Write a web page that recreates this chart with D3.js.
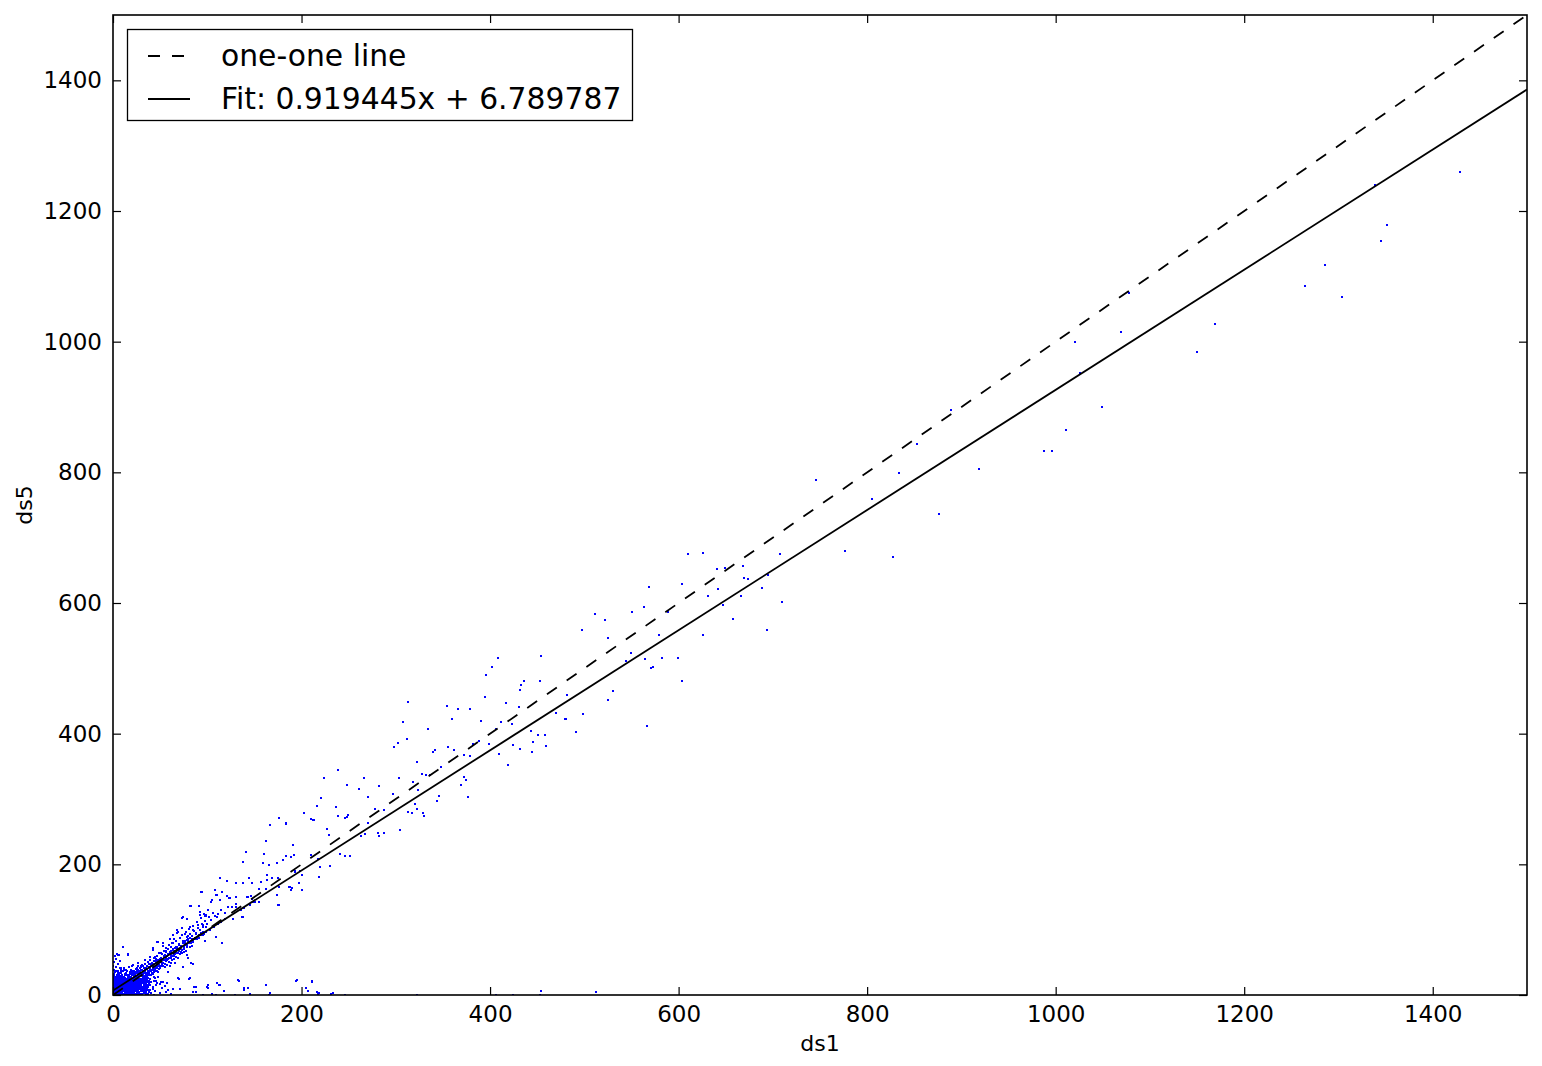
<!DOCTYPE html>
<html>
<head>
<meta charset="utf-8">
<script src="https://cdn.jsdelivr.net/npm/d3@7"></script>
<style>
  html, body { margin: 0; padding: 0; background: #fff; }
  svg { display: block; font-family: "DejaVu Sans", sans-serif; }
</style>
</head>
<body>
<svg id="chart" width="1542" height="1066"></svg>
<script>
// ---- data ----
const xTicks = [0, 200, 400, 600, 800, 1000, 1200, 1400];
const yTicks = [0, 200, 400, 600, 800, 1000, 1200, 1400];
const xLabel = "ds1";
const yLabel = "ds5";
const fitSlope = 0.919445;
const fitIntercept = 6.789787;
const legendLabels = ["one-one line", "Fit: 0.919445x + 6.789787"];

// dense cluster near the origin
const clusterPoints = [
[0,1],[2,3],[4,1],[6,2],[8,0],[10,3],[12,1],[14,2],[16,0],[18,3],[20,1],[22,2],[24,1],[26,3],[28,0],[31,2],[35,1],[40,3],[44,0],
[1,5],[3,4],[5,6],[7,4],[9,5],[11,6],[13,4],[15,5],[17,6],[19,4],[21,5],[23,6],[25,4],[27,5],[30,6],[33,4],[38,5],
[0,8],[2,7],[4,9],[6,8],[8,7],[10,9],[12,8],[14,7],[16,9],[18,8],[20,7],[22,9],[24,8],[26,7],[29,9],[32,8],[36,7],[42,9],
[1,11],[3,10],[5,12],[7,11],[9,10],[11,12],[13,11],[15,10],[17,12],[19,11],[21,10],[23,12],[25,11],[28,10],[31,12],[34,11],
[0,14],[2,13],[4,15],[6,14],[8,13],[10,15],[12,14],[14,13],[16,15],[18,14],[20,13],[22,15],[24,14],[27,13],[30,15],[33,14],[37,13],
[1,17],[3,16],[5,18],[7,17],[9,16],[11,18],[13,17],[15,16],[17,18],[19,17],[21,16],[23,18],[26,17],[29,16],[32,18],[35,17],
[0,20],[2,19],[4,21],[6,20],[8,19],[10,21],[12,20],[14,19],[16,21],[18,20],[20,19],[22,21],[25,20],[28,19],[31,21],[34,20],[38,19],
[1,23],[3,22],[5,24],[7,23],[9,22],[11,24],[13,23],[15,22],[17,24],[19,23],[21,22],[24,24],[27,23],[30,22],[33,24],[36,23],
[0,26],[2,25],[4,27],[6,26],[8,25],[10,27],[12,26],[14,25],[16,27],[18,26],[20,25],[23,27],[26,26],[29,25],[32,27],[35,26],[39,25],
[1,29],[3,28],[6,30],[9,29],[12,28],[15,30],[17,29],[19,28],[21,30],[24,29],[27,28],[30,30],[33,29],[36,28],[40,30],
[0,32],[4,31],[8,33],[13,32],[16,31],[20,33],[23,32],[26,31],[29,33],[32,32],[35,31],[38,33],[42,32],
[2,35],[6,34],[11,36],[18,35],[22,34],[25,36],[28,35],[31,34],[34,36],[37,35],[41,34],[45,36],
[1,38],[9,39],[15,37],[24,40],[27,38],[30,39],[33,37],[36,40],[39,38],[43,39],[47,37],
[3,43],[12,42],[20,44],[29,42],[32,44],[35,41],[38,43],[41,45],[44,42],[48,44],
[1,50],[3,55],[2,60],[5,48],[0,45],[4,62],[7,52]
];

const clusterPoints2 = [
[1,2],[3,2],[5,3],[7,1],[9,2],[11,1],[13,3],[15,1],[17,2],[19,1],[21,3],[23,2],[25,3],[27,2],[29,1],[33,3],[37,2],
[0,4],[2,5],[4,4],[6,6],[8,5],[10,4],[12,6],[14,5],[16,4],[18,6],[20,5],[22,4],[24,6],[26,5],[28,4],[31,6],[35,5],
[1,8],[3,7],[5,9],[7,8],[9,7],[11,9],[13,8],[15,7],[17,9],[19,8],[21,7],[23,9],[25,8],[27,7],[30,9],[34,8],[39,7],
[0,11],[2,10],[4,12],[6,11],[8,10],[10,12],[12,11],[14,10],[16,12],[18,11],[20,10],[22,12],[24,11],[26,10],[29,12],[32,11],[36,10],
[1,14],[3,13],[5,15],[7,14],[9,13],[11,15],[13,14],[15,13],[17,15],[19,14],[21,13],[23,15],[25,14],[28,15],[31,13],[35,14],
[0,17],[2,16],[4,18],[6,17],[8,16],[10,18],[12,17],[14,16],[16,18],[18,17],[20,16],[22,18],[24,17],[27,16],[30,18],[33,17],[37,16],
[1,20],[3,19],[5,21],[7,20],[9,19],[11,21],[13,20],[15,19],[17,21],[19,20],[21,19],[23,21],[26,20],[29,19],[32,21],[36,20],
[0,23],[2,22],[4,24],[6,23],[8,22],[10,24],[12,23],[14,22],[16,24],[18,23],[20,22],[22,24],[25,23],[28,22],[31,24],[34,23],[38,22],
[1,26],[3,25],[5,27],[7,26],[9,25],[11,27],[13,26],[15,25],[17,27],[19,26],[22,25],[24,27],[27,26],[30,25],[33,27],[37,26],
[0,29],[2,28],[4,30],[7,29],[10,28],[13,30],[16,29],[18,28],[20,30],[22,29],[25,28],[28,30],[31,29],[34,28],[38,30],
[1,32],[5,33],[10,31],[14,33],[18,32],[21,31],[24,33],[27,32],[30,31],[33,33],[36,32],[40,31],
[3,36],[8,35],[14,34],[20,36],[23,35],[26,34],[29,36],[32,35],[35,34],[39,36],[43,35],
[5,37],[12,38],[19,39],[22,37],[25,39],[28,37],[31,38],[34,39],[37,37],[41,38],[45,39],
[8,41],[17,43],[25,42],[27,45],[30,44],[33,42],[36,45],[39,41],[42,43],[46,41],[50,45],[34,48],[38,47],[41,49],[44,47],[47,50],[31,46],
[42,12],[45,6],[47,18],[50,3],[52,10],[55,14],[58,7],[61,2],[43,22],[48,27],[53,20],[46,15],[40,20],[44,28],[39,15]
];

// band along the diagonal
const bandPoints = [
[34,47],[37,50],[40,48],[43,52],[46,49],[39,54],[44,56],[48,53],[51,57],[42,46],[47,60],[50,51],[53,55],[55,61],[45,58],[52,63],[57,59],[49,65],[56,66],[60,62],
[58,70],[62,68],[54,68],[61,74],[64,71],[59,76],[66,67],[68,73],[63,79],[70,78],[67,82],[72,75],[65,85],[74,80],[71,87],[76,83],[78,89],[73,92],[80,86],[82,93],
[77,97],[84,90],[86,98],[81,101],[88,95],[90,103],[85,106],[92,99],[94,108],[89,112],[96,104],[98,114],[93,118],[100,109],[102,120],[97,124],[104,115],[106,126],[101,130],[108,121],
[36,30],[40,36],[44,40],[48,47],[52,48],[56,52],[50,42],[46,45],[54,58],[58,55],[62,57],[66,62],[70,68],[75,70],[79,76],[83,79],[87,85],[91,88],[95,92],[99,97],
[103,100],[107,104],[111,108],[115,112],[119,116],
[42,40],[45,43],[47,42],[49,46],[51,50],[53,49],[55,54],[57,53],[59,57],[61,60],[63,59],[65,63],[67,65],[69,64],[71,70],[73,69],[75,73],[77,76],[79,74],[81,80],
[83,82],[85,81],[87,88],[89,86],[91,92],[93,95],[95,97],[97,93],[41,44],[44,47],[46,52],[48,50],[50,55],[52,53],[54,60],[56,57],[58,63],[60,66],[62,64],[64,69],
[66,72],[68,70],[70,76],[72,73],[74,82],[76,79],[78,84],[80,82],[82,88],[84,86],[38,36],[41,38],[43,37],[45,39],[47,44],[49,40],[51,45],[53,44],[55,47],[57,46],
[59,50],[61,49],[63,53],[65,55],[67,58],[69,57],[71,62],[73,64],[75,66],[77,68]
];

// scattered points, low range
const lowPoints = [
[82,136],[91,136],[98,121],[78,116],[90,107],[95,107],[99,104],[82,104],[73,102],[85,99],[69,97],[76,94],[88,94],[64,92],[80,90],[93,92],[60,86],[71,87],[85,84],[48,81],
[53,80],[64,80],[76,80],[11,73],[67,73],[82,73],[56,72],[42,69],[72,66],[51,64],[16,63],[5,61],[62,61],[80,57],[39,58],[34,54],[46,55],[27,49],[66,49],[83,49],
[21,46],[7,41],[14,38],[30,43],[55,43],[40,46],[48,35],[58,35],[69,26],[82,26],[45,26],[51,20],[64,9],[71,9],[88,12],[101,11],[85,5],[56,5],[37,8],
[93,157],[108,160],[116,158],[110,153],[114,146],[123,149],[105,146],[142,150],[147,147],[151,142],[139,133],[131,139],[137,120],[119,125],[127,116],[83,136],[92,122],[99,122],[73,118],[68,99],
[68,95],[109,89],[98,83],[116,80],[84,75],[42,72],[47,81],[53,75],[56,67],[65,60],[53,54],[79,61],[16,61],[6,61],[60,44],[74,43],[46,21],[50,17],
[104,142],[124,149],[130,150],[143,150],[146,152],[149,142],[155,142],[145,138],[131,135],[126,135],[115,130],[122,135],[136,130],[91,136],[92,127],[99,121],[74,119],[111,124],[110,119],[138,119],
[113,179],[121,174],[130,171],[138,171],[144,179],[147,171],[157,173],[163,176],[169,179],[176,166],[187,166],[197,171],[189,161],[162,163],[155,163],[174,153],[176,138],[94,157],[109,153],[121,151]
];

// scattered points along the x axis (ds5 near zero)
const floorPoints = [
[70,24],[81,24],[101,15],[113,15],[110,18],[133,23],[139,11],[143,11],[167,3],[195,23],[211,22],[205,11],[216,5],[219,3],[233,3],
[134,21],[162,15],[194,21],[211,20],[207,6],[217,2],[231,2],[246,0],[322,0],[406,0],[424,0],[454,6],[453,0],[512,5],
[112,15],[100,12],[86,12],[88,5],[96,0],[105,2],[109,0],[118,6],[129,0],[139,8],[145,2],[166,0],[57,18],[85,47]
];

// scattered points, mid range
const midPoints = [
[167,260],[183,263],[212,268],[227,254],[229,245],[162,236],[191,230],[141,219],[160,216],[138,204],[159,202],[166,199],[180,207],[174,202],[192,214],[210,214],[217,208],[241,216],[246,212],[251,213],
[220,196],[230,197],[193,188],[163,184],[200,184],[218,181],[175,179],[198,190],[188,166],[200,160],[190,164],[175,138],[184,212],[189,211],[193,190],
[239,344],[224,332],[248,321],[261,315],[221,302],[216,289],[237,288],[203,279],[239,274],[249,276],[246,271],[248,272],[176,271],[210,269],[213,268],[167,260],[184,262],[227,254],
[408,516],[454,519],[402,502],[396,490],[436,481],[453,481],[433,475],[432,467],[395,456],[417,447],[431,441],[313,448],[354,442],[366,438],[379,438],[308,418],[360,422],[390,419],[412,418],[423,415],
[334,407],[406,407],[312,392],[302,386],[298,380],[355,380],[342,375],[339,372],[362,375],[388,389],[399,384],[382,384],[372,367],[379,366],[410,369],[424,383],[432,377],[419,352],[443,404],[446,387],
[451,398],[458,398],[444,372],[459,381],[470,432],[482,459],[480,422],[499,430],[491,403],[323,357],[328,338],[332,337],[336,337],[348,349],[303,332],[318,326],[324,314],[372,334],[374,329],[369,322],
[377,303],[297,308],[266,332],[282,320],[261,315],[270,303],[346,305],[344,297],[278,285],[287,283],[320,292],[322,285],[313,280],[317,279],[329,279],[330,274],[271,263],[304,253],[281,248],[288,248],
[282,243],[267,247],[263,243],[544,511],[549,523],[564,514],[566,412],[525,452],[530,465]
];

// scattered points, upper range
const highPoints = [
[610,675],[626,677],[708,675],[641,652],[649,654],[668,657],[669,638],[674,637],[695,643],[689,623],[642,621],[631,611],[666,611],[647,597],[710,602],[658,576],[694,559],[604,629],[569,625],[563,594],
[551,586],[589,586],[511,583],[522,574],[497,559],[525,546],[579,551],[626,551],[549,523],[544,511],[564,514],[582,516],[599,516],[571,500],[573,502],[604,481],[482,459],[530,465],[525,452],[470,432],
[481,422],[499,430],[566,412],
[746,788],[805,759],[876,736],[776,680],[827,670],[834,799],[853,843],[889,895],[919,805],[988,833],[996,833],[1011,865],[1049,900],[1026,952],[1020,1000],[1069,1015],[1078,1075],
[1150,984],[1169,1027],[1265,1085],[1304,1068],[1286,1117],[1345,1154],[1351,1179],[1339,1240],[1429,1260]
];

const allPoints = [].concat(clusterPoints, clusterPoints2, bandPoints, lowPoints, floorPoints, midPoints, highPoints);

// ---- layout ----
const svg = d3.select("#chart");
const margin = { left: 113, right: 1527, top: 15, bottom: 995 };
const x = d3.scaleLinear().domain([0, 1500]).range([margin.left, margin.right]);
const y = d3.scaleLinear().domain([0, 1500]).range([margin.bottom, margin.top]);

svg.append("rect").attr("width", 1542).attr("height", 1066).attr("fill", "#fff");

svg.append("defs").append("clipPath").attr("id", "clip")
  .append("rect")
  .attr("x", margin.left).attr("y", margin.top)
  .attr("width", margin.right - margin.left).attr("height", margin.bottom - margin.top);

const plot = svg.append("g").attr("clip-path", "url(#clip)");

// points
plot.append("g").attr("shape-rendering", "crispEdges").selectAll("rect")
  .data(allPoints)
  .enter().append("rect")
  .attr("x", d => Math.round(x(d[0])) - 1)
  .attr("y", d => Math.round(y(d[1])) - 1)
  .attr("width", 2).attr("height", 2)
  .attr("fill", "#0000ff");

// one-one line
const lineGen = d3.line().x(d => x(d[0])).y(d => y(d[1]));
plot.append("path")
  .attr("d", lineGen([[0, 0], [1500, 1500]]))
  .attr("fill", "none").attr("stroke", "#000").attr("stroke-width", 1.8)
  .attr("stroke-dasharray", "12,12");

// fit line
plot.append("path")
  .attr("d", lineGen([[0, fitIntercept], [1500, fitSlope * 1500 + fitIntercept]]))
  .attr("fill", "none").attr("stroke", "#000").attr("stroke-width", 1.8);

// axes (ticks inside, all four sides)
const tickLen = 8;
const tickFont = "23px";
const xAxisB = d3.axisBottom(x).tickValues(xTicks).tickSizeInner(-tickLen).tickSizeOuter(0).tickPadding(11).tickFormat(d3.format("d"));
const xAxisT = d3.axisTop(x).tickValues(xTicks).tickSizeInner(-tickLen).tickSizeOuter(0).tickFormat("");
const yAxisL = d3.axisLeft(y).tickValues(yTicks).tickSizeInner(-tickLen).tickSizeOuter(0).tickPadding(11).tickFormat(d3.format("d"));
const yAxisR = d3.axisRight(y).tickValues(yTicks).tickSizeInner(-tickLen).tickSizeOuter(0).tickFormat("");

function styleAxis(g) {
  g.select(".domain").remove();
  g.selectAll(".tick line").attr("stroke", "#000").attr("stroke-width", 1.2);
  g.selectAll(".tick text").attr("fill", "#000").style("font-size", tickFont).style("font-family", "DejaVu Sans");
}
svg.append("g").attr("transform", `translate(0,${margin.bottom})`).call(xAxisB).call(styleAxis);
svg.append("g").attr("transform", `translate(0,${margin.top})`).call(xAxisT).call(styleAxis);
svg.append("g").attr("transform", `translate(${margin.left},0)`).call(yAxisL).call(styleAxis);
svg.append("g").attr("transform", `translate(${margin.right},0)`).call(yAxisR).call(styleAxis);

// frame
svg.append("rect")
  .attr("x", margin.left).attr("y", margin.top)
  .attr("width", margin.right - margin.left).attr("height", margin.bottom - margin.top)
  .attr("fill", "none").attr("stroke", "#000").attr("stroke-width", 1.6);

// axis labels
svg.append("text").attr("x", (margin.left + margin.right) / 2).attr("y", 1051)
  .attr("text-anchor", "middle").style("font-size", "22px").text(xLabel);
svg.append("text").attr("transform", `translate(32,${(margin.top + margin.bottom) / 2}) rotate(-90)`)
  .attr("text-anchor", "middle").style("font-size", "22px").text(yLabel);

// legend
const lg = svg.append("g");
lg.append("rect").attr("x", 127.5).attr("y", 29.5).attr("width", 505).attr("height", 91)
  .attr("fill", "#fff").attr("stroke", "#000").attr("stroke-width", 1.3);
const legendY = [56, 99];
lg.append("line").attr("x1", 148).attr("x2", 190).attr("y1", legendY[0]).attr("y2", legendY[0])
  .attr("stroke", "#000").attr("stroke-width", 1.8).attr("stroke-dasharray", "12,12");
lg.append("line").attr("x1", 148).attr("x2", 190).attr("y1", legendY[1]).attr("y2", legendY[1])
  .attr("stroke", "#000").attr("stroke-width", 1.8);
legendLabels.forEach((t, i) => {
  lg.append("text").attr("x", 221).attr("y", legendY[i]).attr("dy", "0.35em")
    .style("font-size", "29.8px").text(t);
});
</script>
</body>
</html>
